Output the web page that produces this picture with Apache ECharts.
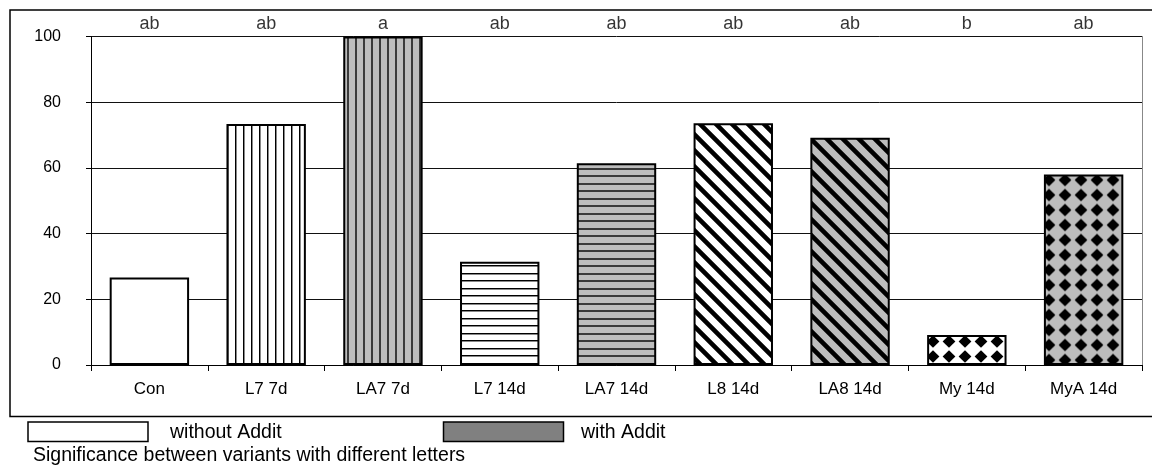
<!DOCTYPE html>
<html>
<head>
<meta charset="utf-8">
<script src="https://cdn.jsdelivr.net/npm/echarts@6/dist/echarts.min.js"></script>
<style>
html,body{margin:0;padding:0;background:#fff;}
#chart{width:1152px;height:465px;}
</style>
</head>
<body>
<div id="chart"></div>
<script>
// ---- data ----
var categories = ['Con', 'L7 7d', 'LA7 7d', 'L7 14d', 'LA7 14d', 'L8 14d', 'LA8 14d', 'My 14d', 'MyA 14d'];
var values = [26.6, 73.4, 100, 31.4, 61.4, 73.6, 69.2, 9.1, 58.0];
var letters = ['ab', 'ab', 'a', 'ab', 'ab', 'ab', 'ab', 'b', 'ab'];
var yTicks = [0, 20, 40, 60, 80, 100];
var legendLabels = ['without Addit', 'with Addit'];
var footnote = 'Significance between variants with different letters';

var FONT = 'Liberation Sans, Arial, sans-serif';
var GREY = '#bdbdbd';

function tile(w, h, bg, draw) {
  var c = document.createElement('canvas');
  c.width = w; c.height = h;
  var g = c.getContext('2d');
  g.fillStyle = bg; g.fillRect(0, 0, w, h);
  draw(g, w, h);
  return c;
}
function vLines(bg, dark, width) {
  return tile(8, 8, bg, function (g) {
    g.fillStyle = dark; g.fillRect(3, 0, width, 8);
    if (width < 2) { g.fillStyle = '#888'; g.fillRect(4, 0, 1, 8); }
  });
}
function hLines(bg, dark, width) {
  return tile(8, 15, bg, function (g) {
    g.fillStyle = dark; g.fillRect(0, 3, 8, width); g.fillRect(0, 10, 8, width);
    if (width < 2) { g.fillStyle = '#888'; g.fillRect(0, 4, 8, 1); g.fillRect(0, 11, 8, 1); }
  });
}
function diag(bg) {
  return tile(16, 16, bg, function (g) {
    g.strokeStyle = '#000'; g.lineWidth = 4.6;
    g.beginPath();
    g.moveTo(-4, -4); g.lineTo(20, 20);
    g.moveTo(-4, 12); g.lineTo(4, 20);
    g.moveTo(12, -4); g.lineTo(20, 4);
    g.stroke();
  });
}
function diamonds(bg) {
  return tile(16, 15, bg, function (g) {
    g.fillStyle = '#000';
    g.beginPath();
    g.moveTo(8, 1.2); g.lineTo(14.4, 7.5); g.lineTo(8, 13.8); g.lineTo(1.6, 7.5);
    g.closePath(); g.fill();
  });
}
var patterns = [
  '#ffffff',
  { image: vLines('#ffffff', '#000', 1), repeat: 'repeat' },
  { image: vLines(GREY, '#3a3a3a', 2), repeat: 'repeat' },
  { image: hLines('#ffffff', '#000', 1), repeat: 'repeat' },
  { image: hLines(GREY, '#3a3a3a', 2), repeat: 'repeat' },
  { image: diag('#ffffff'), repeat: 'repeat' },
  { image: diag(GREY), repeat: 'repeat' },
  { image: diamonds('#ffffff'), repeat: 'repeat', x: -3, y: 4 },
  { image: diamonds(GREY), repeat: 'repeat', x: 1, y: 7.5 }
];

var barData = values.map(function (v, i) {
  return {
    value: v,
    itemStyle: { color: patterns[i], borderColor: '#000', borderWidth: 2 }
  };
});
var letterData = letters.map(function (l) { return { value: 100, name: l }; });

var chart = echarts.init(document.getElementById('chart'), null, { renderer: 'canvas' });
chart.setOption({
  animation: false,
  backgroundColor: '#fff',
  grid: { left: 91, right: 10, top: 36.5, bottom: 100, containLabel: false },
  xAxis: {
    type: 'category',
    data: categories,
    boundaryGap: true,
    axisLine: { lineStyle: { color: '#000', width: 1 } },
    axisTick: { show: true, length: 6, lineStyle: { color: '#000' } },
    axisLabel: { color: '#000', fontFamily: FONT, fontSize: 17, margin: 16 },
    splitLine: { show: false }
  },
  yAxis: [{
    type: 'value',
    min: yTicks[0],
    max: yTicks[yTicks.length - 1],
    interval: yTicks[1] - yTicks[0],
    axisLine: { show: true, lineStyle: { color: '#000', width: 1 } },
    axisTick: { show: true, length: 5, lineStyle: { color: '#000' } },
    axisLabel: { color: '#000', fontFamily: FONT, fontSize: 16, margin: 30 },
    splitLine: { show: true, lineStyle: { color: '#111', width: 1 } }
  }, {
    type: 'value',
    position: 'right',
    min: 0, max: 100, interval: 20,
    axisLine: { show: true, lineStyle: { color: '#888', width: 1 } },
    axisTick: { show: false },
    axisLabel: { show: false },
    splitLine: { show: false }
  }],
  series: [{
    type: 'bar',
    data: barData,
    barWidth: '68%',
    yAxisIndex: 0
  }, {
    type: 'scatter',
    data: letterData,
    symbolSize: 0,
    silent: true,
    clip: false,
    label: {
      show: true,
      position: 'top',
      distance: 3.5,
      formatter: function (p) { return p.name; },
      color: '#000',
      fontFamily: FONT,
      fontSize: 18
    }
  }],
  graphic: [
    { type: 'rect', shape: { x: 10, y: 10, width: 1160, height: 406.5 },
      style: { fill: 'none', stroke: '#000', lineWidth: 1.5 }, silent: true },
    { type: 'rect', shape: { x: 28, y: 422, width: 120, height: 19.5 },
      style: { fill: '#fff', stroke: '#000', lineWidth: 1.5 } },
    { type: 'text', x: 170, y: 432.5,
      style: { text: legendLabels[0], font: '19.5px ' + FONT, fill: '#000', textVerticalAlign: 'middle' } },
    { type: 'rect', shape: { x: 443.5, y: 422, width: 120, height: 19.5 },
      style: { fill: '#808080', stroke: '#000', lineWidth: 1.5 } },
    { type: 'text', x: 581, y: 432.5,
      style: { text: legendLabels[1], font: '19.5px ' + FONT, fill: '#000', textVerticalAlign: 'middle' } },
    { type: 'text', x: 33, y: 456,
      style: { text: footnote, font: '19.5px ' + FONT, fill: '#000', textVerticalAlign: 'middle' } }
  ]
});
</script>
</body>
</html>
